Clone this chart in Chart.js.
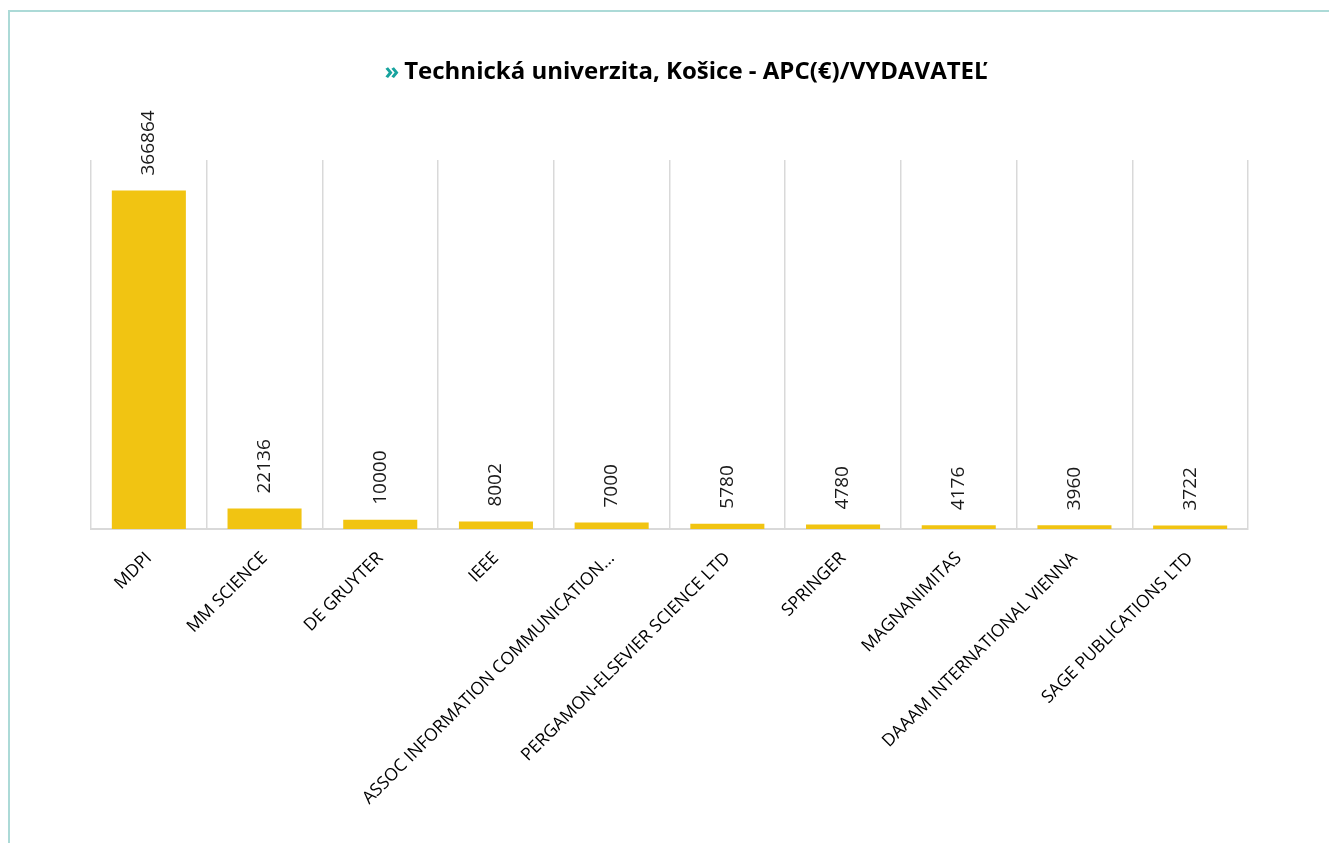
<!DOCTYPE html>
<html>
<head>
<meta charset="utf-8">
<script src="https://cdn.jsdelivr.net/npm/chart.js@4"></script>
<style>
  body { margin: 0; background: #fff; }
  #wrap { position: relative; width: 1329px; height: 843px; }
  #frame { position: absolute; left: 8px; top: 10px; right: 0; bottom: 0;
           border-left: 2px solid #acdad7; border-top: 2px solid #acdad7; }
  canvas { position: absolute; left: 0; top: 0; }
</style>
</head>
<body>
<div id="wrap">
  <div id="frame"></div>
  <canvas id="myChart" width="1329" height="843"></canvas>
</div>
<script>
// data
var publishers = [
  "MDPI",
  "MM SCIENCE",
  "DE GRUYTER",
  "IEEE",
  "ASSOC INFORMATION COMMUNICATION...",
  "PERGAMON-ELSEVIER SCIENCE LTD",
  "SPRINGER",
  "MAGNANIMITAS",
  "DAAAM INTERNATIONAL VIENNA",
  "SAGE PUBLICATIONS LTD"
];
var apc = [366864, 22136, 10000, 8002, 7000, 5780, 4780, 4176, 3960, 3722];
var titleMark = "»";
var titleText = "Technická univerzita, Košice - APC(€)/VYDAVATEĽ";

var fontFamily = "'Open Sans', sans-serif";

// title with teal arrow in front
var titlePlugin = {
  id: "titlePlugin",
  afterDraw: function (chart) {
    var ctx = chart.ctx;
    ctx.save();
    ctx.font = "bold 24px " + fontFamily;
    ctx.textBaseline = "middle";
    ctx.textAlign = "left";
    var markW = ctx.measureText(titleMark).width;
    var textW = ctx.measureText(titleText).width;
    var x = 686 - (markW + 5 + textW) / 2;
    ctx.fillStyle = "#17a39e";
    ctx.fillText(titleMark, x, 72);
    ctx.fillStyle = "#000";
    ctx.fillText(titleText, x + markW + 5, 72);
    ctx.restore();
  }
};

// vertical value labels above bars
var valueLabels = {
  id: "valueLabels",
  afterDatasetsDraw: function (chart) {
    var ctx = chart.ctx;
    var meta = chart.getDatasetMeta(0);
    ctx.save();
    ctx.font = "19px " + fontFamily;
    ctx.fillStyle = "#1a1a1a";
    ctx.textAlign = "left";
    ctx.textBaseline = "middle";
    meta.data.forEach(function (bar, i) {
      ctx.save();
      ctx.translate(bar.x, bar.y - 15);
      ctx.rotate(-Math.PI / 2);
      ctx.fillText(String(apc[i]), 0, 0);
      ctx.restore();
    });
    ctx.restore();
  }
};

var myChart = document.getElementById("myChart").getContext("2d");
var chart = new Chart(myChart, {
  type: "bar",
  data: {
    labels: publishers,
    datasets: [
      {
        data: apc,
        backgroundColor: "#f1c412",
        categoryPercentage: 1,
        barPercentage: 0.64
      }
    ]
  },
  options: {
    responsive: false,
    animation: false,
    layout: { padding: { left: 91, right: 81, top: 160, bottom: 0 } },
    plugins: {
      legend: { display: false },
      title: { display: false },
      tooltip: { enabled: false }
    },
    scales: {
      x: {
        grid: { color: "#d9d9d9", lineWidth: 1.5, drawTicks: false },
        border: { color: "#d9d9d9", width: 2 },
        ticks: {
          color: "#000",
          font: { family: fontFamily, size: 17.5 },
          minRotation: 45,
          maxRotation: 45,
          padding: 19,
          autoSkip: false
        },
        afterFit: function (scale) {
          scale.height = 843 - 529;
        }
      },
      y: {
        display: false,
        min: 0,
        max: 400000
      }
    }
  },
  plugins: [titlePlugin, valueLabels]
});
</script>
</body>
</html>
